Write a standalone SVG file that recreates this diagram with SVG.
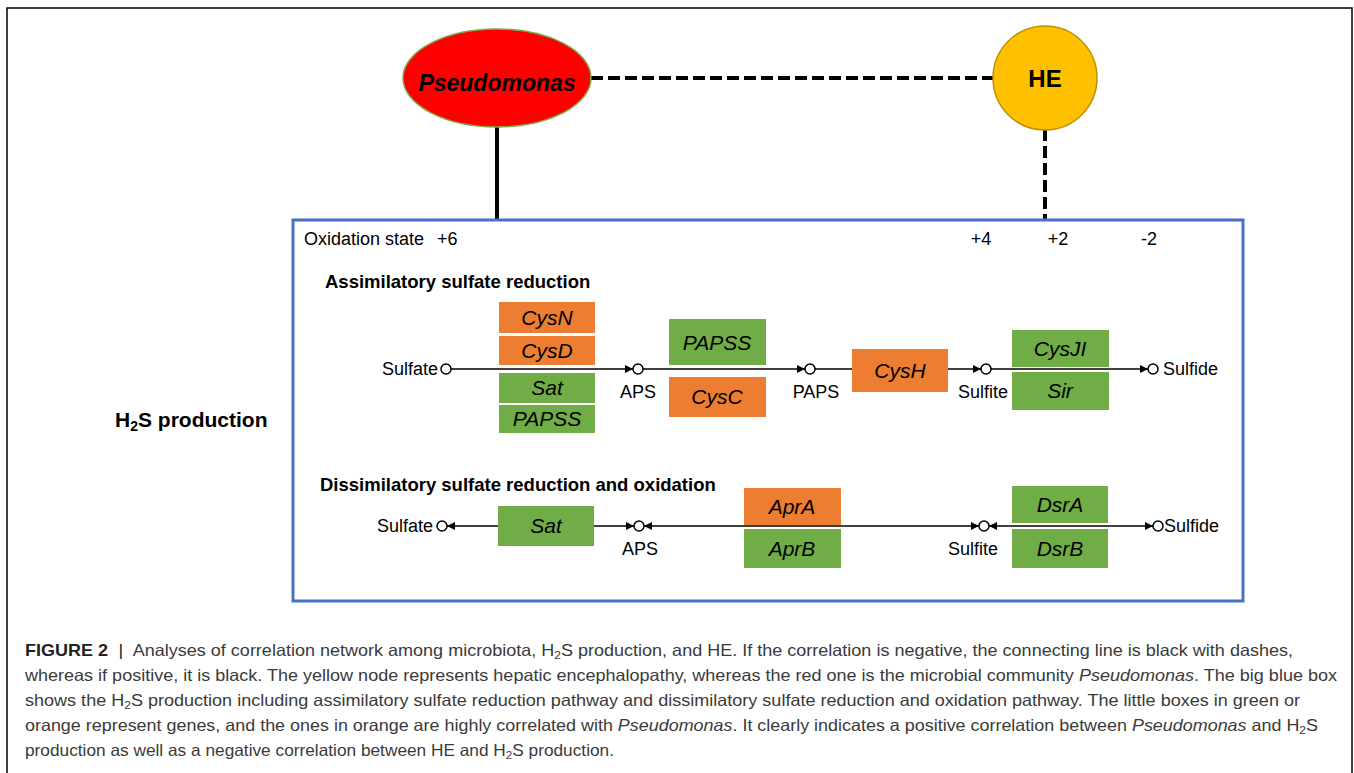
<svg xmlns="http://www.w3.org/2000/svg" width="1354" height="773" viewBox="0 0 1354 773">
<defs>
<marker id="arr" viewBox="0 0 10 10" refX="10" refY="5" markerWidth="9" markerHeight="8" markerUnits="userSpaceOnUse" orient="auto-start-reverse">
<path d="M0,0 L10,5 L0,10 z" fill="#000"/>
</marker>
<style>
.lbl{font-family:"Liberation Sans",Arial,sans-serif;font-size:18px;fill:#000}
.hd{font-family:"Liberation Sans",Arial,sans-serif;font-size:18.5px;font-weight:bold;fill:#000}
.gene{font-family:"Liberation Sans",Arial,sans-serif;font-size:21px;font-style:italic;fill:#000;text-anchor:middle}
.org{fill:#ED7D31}
.grn{fill:#70AD47}
.flow{stroke:#000;stroke-width:1.5;fill:none}
.node{fill:#fff;stroke:#000;stroke-width:1.5}
.cap{font-family:"Liberation Sans",Arial,sans-serif;font-size:16.5px;fill:#3a3a3a}
.dash{stroke:#000;stroke-width:4;stroke-dasharray:12 5;fill:none}
</style>
</defs>
<rect x="7" y="8" width="1345" height="770" fill="#fff" stroke="#000" stroke-width="1.5"/>

<g id="connectors">
<line class="dash" x1="591" y1="78" x2="993" y2="78"/>
<line x1="497" y1="126" x2="497" y2="219" stroke="#000" stroke-width="4"/>
<line class="dash" x1="1045" y1="129" x2="1045" y2="219"/>
<line class="flow" x1="451" y1="369" x2="633" y2="369" marker-end="url(#arr)"/>
<line class="flow" x1="643" y1="369" x2="805" y2="369" marker-end="url(#arr)"/>
<line class="flow" x1="815" y1="369" x2="852" y2="369"/>
<line class="flow" x1="948" y1="369" x2="981" y2="369" marker-end="url(#arr)"/>
<line class="flow" x1="991" y1="369" x2="1148" y2="369" marker-end="url(#arr)"/>
<line class="flow" x1="498" y1="526" x2="447" y2="526" marker-end="url(#arr)"/>
<line class="flow" x1="594" y1="526" x2="634" y2="526" marker-end="url(#arr)"/>
<line class="flow" x1="644" y1="526" x2="979" y2="526" marker-start="url(#arr)" marker-end="url(#arr)"/>
<line class="flow" x1="989" y1="526" x2="1153" y2="526" marker-start="url(#arr)" marker-end="url(#arr)"/>
</g>

<g id="pseudomonas">
<ellipse cx="497" cy="78" rx="94" ry="49" fill="#FF0000" stroke="#7FA64A" stroke-width="1.5"/>
<text x="497" y="91" text-anchor="middle" font-family="'Liberation Sans',Arial,sans-serif" font-size="23" font-weight="bold" font-style="italic" fill="#000">Pseudomonas</text>
</g>
<g id="he">
<circle cx="1045" cy="78" r="52" fill="#FFC000" stroke="#C09000" stroke-width="1.5"/>
<text x="1045" y="87" text-anchor="middle" font-family="'Liberation Sans',Arial,sans-serif" font-size="24" font-weight="bold" fill="#000">HE</text>
</g>

<g id="h2s-box">
<rect x="293" y="220" width="950" height="381" fill="none" stroke="#4472C4" stroke-width="3"/>
<text class="lbl" x="304" y="245">Oxidation state</text>
<text class="lbl" x="437" y="245">+6</text>
<text class="lbl" x="981" y="245" text-anchor="middle">+4</text>
<text class="lbl" x="1058" y="245" text-anchor="middle">+2</text>
<text class="lbl" x="1149" y="245" text-anchor="middle">-2</text>
<text class="hd" x="325" y="288">Assimilatory sulfate reduction</text>
<text class="hd" x="320" y="491">Dissimilatory sulfate reduction and oxidation</text>
</g>

<g id="h2s-label">
<text x="115" y="427" font-family="'Liberation Sans',Arial,sans-serif" font-size="21" font-weight="bold" fill="#000">H<tspan font-size="14" dy="4">2</tspan><tspan dy="-4">S production</tspan></text>
</g>

<g id="assim-genes">
<rect class="org" x="499" y="302" width="96" height="31"/><text class="gene" x="547" y="325">CysN</text>
<rect class="org" x="499" y="336" width="96" height="29"/><text class="gene" x="547" y="358">CysD</text>
<rect class="grn" x="499" y="373" width="96" height="30"/><text class="gene" x="547" y="395">Sat</text>
<rect class="grn" x="499" y="405" width="96" height="28"/><text class="gene" x="547" y="426">PAPSS</text>
<rect class="grn" x="669" y="319" width="97" height="46"/><text class="gene" x="717" y="350">PAPSS</text>
<rect class="org" x="669" y="377" width="97" height="40"/><text class="gene" x="717" y="404">CysC</text>
<rect class="org" x="852" y="349" width="96" height="43"/><text class="gene" x="900" y="378">CysH</text>
<rect class="grn" x="1012" y="330" width="97" height="37"/><text class="gene" x="1060" y="356">CysJI</text>
<rect class="grn" x="1012" y="372" width="97" height="38"/><text class="gene" x="1060" y="398">Sir</text>
</g>

<g id="dissim-genes">
<rect class="grn" x="498" y="506" width="96" height="40"/><text class="gene" x="546" y="533">Sat</text>
<rect class="org" x="744" y="488" width="97" height="37"/><text class="gene" x="792" y="514">AprA</text>
<rect class="grn" x="744" y="529" width="97" height="39"/><text class="gene" x="792" y="556">AprB</text>
<rect class="grn" x="1012" y="486" width="96" height="37"/><text class="gene" x="1060" y="512">DsrA</text>
<rect class="grn" x="1012" y="529" width="96" height="39"/><text class="gene" x="1060" y="556">DsrB</text>
</g>

<g id="assim-metabolites">
<text class="lbl" x="438" y="375" text-anchor="end">Sulfate</text>
<circle class="node" cx="446" cy="369" r="5"/>
<circle class="node" cx="638" cy="369" r="5"/>
<text class="lbl" x="638" y="398" text-anchor="middle">APS</text>
<circle class="node" cx="810" cy="369" r="5"/>
<text class="lbl" x="816" y="398" text-anchor="middle">PAPS</text>
<circle class="node" cx="986" cy="369" r="5"/>
<text class="lbl" x="983" y="398" text-anchor="middle">Sulfite</text>
<circle class="node" cx="1153" cy="369" r="5"/>
<text class="lbl" x="1163" y="375">Sulfide</text>
</g>

<g id="dissim-metabolites">
<text class="lbl" x="433" y="532" text-anchor="end">Sulfate</text>
<circle class="node" cx="442" cy="526" r="5"/>
<circle class="node" cx="639" cy="526" r="5"/>
<text class="lbl" x="640" y="555" text-anchor="middle">APS</text>
<circle class="node" cx="984" cy="526" r="5"/>
<text class="lbl" x="973" y="555" text-anchor="middle">Sulfite</text>
<circle class="node" cx="1158" cy="526" r="5"/>
<text class="lbl" x="1164" y="532">Sulfide</text>
</g>

<g id="caption">
<text class="cap" x="25" y="656" textLength="1268" lengthAdjust="spacingAndGlyphs"><tspan font-weight="bold" fill="#222">FIGURE 2</tspan><tspan fill="#222" dx="5"> |</tspan><tspan dx="5"> Analyses of correlation network among microbiota, H</tspan><tspan font-size="11" dy="3">2</tspan><tspan dy="-3">S production, and HE. If the correlation is negative, the connecting line is black with dashes,</tspan></text>
<text class="cap" x="25" y="681" textLength="1312" lengthAdjust="spacingAndGlyphs">whereas if positive, it is black. The yellow node represents hepatic encephalopathy, whereas the red one is the microbial community <tspan font-style="italic">Pseudomonas</tspan>. The big blue box</text>
<text class="cap" x="25" y="706" textLength="1275" lengthAdjust="spacingAndGlyphs">shows the H<tspan font-size="11" dy="3">2</tspan><tspan dy="-3">S production including assimilatory sulfate reduction pathway and dissimilatory sulfate reduction and oxidation pathway. The little boxes in green or</tspan></text>
<text class="cap" x="25" y="731" textLength="1293" lengthAdjust="spacingAndGlyphs">orange represent genes, and the ones in orange are highly correlated with <tspan font-style="italic">Pseudomonas</tspan>. It clearly indicates a positive correlation between <tspan font-style="italic">Pseudomonas</tspan> and H<tspan font-size="11" dy="3">2</tspan><tspan dy="-3">S</tspan></text>
<text class="cap" x="25" y="756" textLength="589" lengthAdjust="spacingAndGlyphs">production as well as a negative correlation between HE and H<tspan font-size="11" dy="3">2</tspan><tspan dy="-3">S production.</tspan></text>
</g>
</svg>
